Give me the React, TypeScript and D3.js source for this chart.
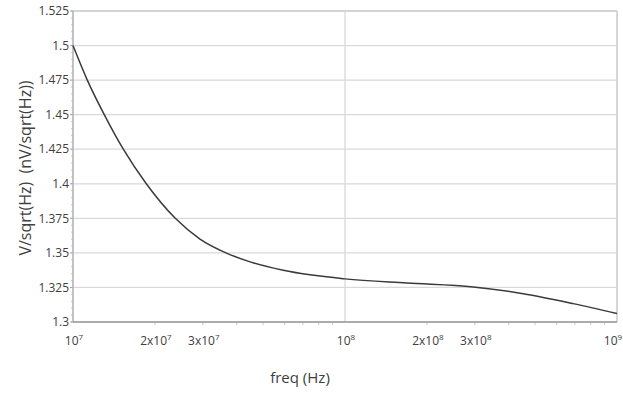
import React from "react";
import * as d3 from "d3";

const freqs = [1e7, 1.1287e7, 1.303e7, 1.5308e7, 1.8599e7, 2.3773e7, 2.93e7, 3.6517e7, 4.48e7, 5.93e7, 1e8, 1.687e8, 2.963e8, 4.52e8, 6.9e8, 1e9];
const values = [1.5, 1.475, 1.45, 1.425, 1.4, 1.375, 1.36, 1.35, 1.3435, 1.3374, 1.3312, 1.3282, 1.3254, 1.3205, 1.3133, 1.3061];
const yTicks = [1.3, 1.325, 1.35, 1.375, 1.4, 1.425, 1.45, 1.475, 1.5, 1.525];
const yTickLabels = ["1.3", "1.325", "1.35", "1.375", "1.4", "1.425", "1.45", "1.475", "1.5", "1.525"];
const xLabelTicks = [1e7, 2e7, 3e7, 1e8, 2e8, 3e8, 1e9];
const xLabelMant = ["", "2x", "3x", "", "2x", "3x", ""];
const xLabelExp = ["7", "7", "7", "8", "8", "8", "9"];
const xGrid = [1e7, 1e8, 1e9];

const W = 623, H = 393;
const left = 73, right = 617, top = 11, bottom = 322;
const font = "'Open Sans', 'Liberation Sans', sans-serif";

export default function App() {
  const x = d3.scaleLog().domain([1e7, 1e9]).range([left, right]);
  const y = d3.scaleLinear().domain([1.3, 1.525]).range([bottom, top]);
  const pts: [number, number][] = freqs.map((f, i) => [x(f), y(values[i])]);
  const line = d3.line().curve(d3.curveMonotoneX)(pts) || "";
  const minorX: number[] = [];
  for (const dec of [1e7, 1e8]) for (let k = 2; k <= 9; k++) minorX.push(k * dec);
  const minorY = d3.range(0, 46).map((i) => 1.3 + i * 0.005);
  return (
    <svg width={W} height={H} style={{ position: "absolute", left: 0, top: 0, background: "#fff" }}>
      <rect x={0} y={0} width={W} height={H} fill="#fff" />
      {yTicks.map((t) => (
        <line key={"gy" + t} x1={left} x2={right} y1={y(t)} y2={y(t)} stroke="#d9d9d9" strokeWidth={1.3} />
      ))}
      {xGrid.map((t) => (
        <line key={"gx" + t} x1={x(t)} x2={x(t)} y1={top} y2={bottom} stroke="#d9d9d9" strokeWidth={1.3} />
      ))}
      <line x1={left} x2={right} y1={top} y2={top} stroke="#cfcfcf" strokeWidth={1.3} />
      <line x1={right} x2={right} y1={top} y2={bottom} stroke="#cfcfcf" strokeWidth={1.3} />
      {minorY.map((t, i) => (
        <line key={"my" + i} x1={left - 2} x2={left} y1={y(t)} y2={y(t)} stroke="#c8c8c8" strokeWidth={1} />
      ))}
      {yTicks.map((t) => (
        <line key={"ty" + t} x1={left - 3} x2={left} y1={y(t)} y2={y(t)} stroke="#a6a6a6" strokeWidth={1} />
      ))}
      {minorX.map((t, i) => (
        <line key={"mx" + i} x1={x(t)} x2={x(t)} y1={bottom} y2={bottom + 3} stroke="#c8c8c8" strokeWidth={1} />
      ))}
      <line x1={left} x2={left} y1={top} y2={bottom} stroke="#b0b0b0" strokeWidth={1.3} />
      <line x1={left} x2={right} y1={bottom} y2={bottom} stroke="#9a9a9a" strokeWidth={1.3} />
      <path d={line} fill="none" stroke="#3a3a3a" strokeWidth={1.5} />
      {yTicks.map((t, i) => (
        <text key={"ly" + t} x={left - 4} y={y(t)} dy="0.35em" textAnchor="end" fontFamily={font} fontSize={12} fill="#404040">
          {yTickLabels[i]}
        </text>
      ))}
      {xLabelTicks.map((t, i) => (
        <text key={"lx" + t} x={i === xLabelTicks.length - 1 ? x(t) - 4 : x(t) + 1} y={345} textAnchor="middle" fontFamily={font} fontSize={12} fill="#404040">
          {xLabelMant[i] + "10"}
          <tspan fontSize={8} dy={-5}>{xLabelExp[i]}</tspan>
        </text>
      ))}
      <text x={300} y={383} textAnchor="middle" fontFamily={font} fontSize={15} fill="#404040">freq (Hz)</text>
      <text transform="translate(31,168) rotate(-90)" textAnchor="middle" fontFamily={font} fontSize={16} fill="#404040">
        {"V/sqrt(Hz)\u00a0\u00a0(nV/sqrt(Hz))"}
      </text>
    </svg>
  );
}
